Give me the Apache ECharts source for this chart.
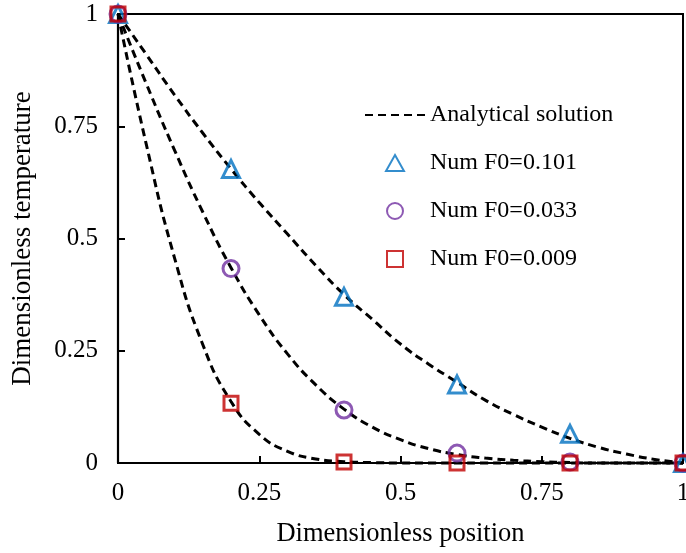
<!DOCTYPE html>
<html><head><meta charset="utf-8">
<script src="https://cdn.jsdelivr.net/npm/echarts@6/dist/echarts.min.js"></script>
<style>html,body{margin:0;padding:0;background:#fff}#c{width:686px;height:553px}</style>
</head><body><div id="c"></div>
<script>
const xTicks = [0, 0.25, 0.5, 0.75, 1];
const yTicks = [0, 0.25, 0.5, 0.75, 1];
const curveX = [0,0.05,0.1,0.15,0.2,0.25,0.3,0.35,0.4,0.45,0.5,0.55,0.6,0.65,0.7,0.75,0.8,0.85,0.9,0.95,1];
const curveF0101 = [1,0.91,0.82,0.735,0.655,0.58,0.51,0.44,0.375,0.32,0.265,0.22,0.18,0.14,0.108,0.08,0.055,0.035,0.02,0.008,0];
const curveF0033 = [1,0.845,0.697,0.559,0.435,0.33,0.243,0.174,0.12,0.08,0.052,0.032,0.019,0.011,0.006,0.003,0.001,0,0,0,0];
const curveF0009 = [1,0.71,0.457,0.264,0.137,0.064,0.026,0.009,0.003,0.001,0,0,0,0,0,0,0,0,0,0,0];
const numX = [0, 0.2, 0.4, 0.6, 0.8, 1];
const numF0101 = [1, 0.655, 0.37, 0.175, 0.065, 0];
const numF0033 = [1, 0.433, 0.118, 0.022, 0.002, 0];
const numF0009 = [1, 0.133, 0.002, 0, 0, 0];

const font = '"Liberation Serif","Times New Roman",serif';
const pair = (xs, ys) => xs.map((x, i) => [x, ys[i]]);
const lineSeries = (ys) => ({
  name: 'Analytical solution', type: 'line', data: pair(curveX, ys), smooth: true,
  symbol: 'none', clip: false, z: 2,
  lineStyle: { color: '#000', width: 3, type: [8, 5] }, itemStyle: { color: '#000' }
});
const sc = (name, ys, symbol, color, size) => ({
  name, type: 'scatter', data: pair(numX, ys), symbol, symbolSize: size, clip: false, z: 5,
  itemStyle: { color: 'rgba(0,0,0,0)', borderColor: color, borderWidth: 3 }
});
const tri = 'path://M50,8 L96,90 L4,90 Z';
const sq = 'path://M0,0 L10,0 L10,10 L0,10 Z';
const chart = echarts.init(document.getElementById('c'), null, { renderer: 'canvas' });
chart.setOption({
  animation: false,
  grid: { left: 118, right: 3, top: 14, bottom: 90, show: true, borderColor: '#000', borderWidth: 2, outerBoundsMode: 'none', containLabel: false },
  xAxis: {
    type: 'value', min: 0, max: 1, interval: 0.25,
    name: 'Dimensionless position', nameLocation: 'middle', nameGap: 58,
    nameTextStyle: { fontFamily: font, fontSize: 26.5, color: '#000' },
    axisLine: { lineStyle: { color: '#000', width: 2.2 } },
    axisTick: { inside: true, length: 7, lineStyle: { color: '#000', width: 2 } },
    axisLabel: { fontFamily: font, fontSize: 25, color: '#000', margin: 18, formatter: v => xTicks.includes(v) ? String(v) : '' },
    splitLine: { show: false }
  },
  yAxis: {
    type: 'value', min: 0, max: 1, interval: 0.25,
    name: 'Dimensionless temperature', nameLocation: 'middle', nameGap: 82,
    nameTextStyle: { fontFamily: font, fontSize: 27, color: '#000' },
    axisLine: { lineStyle: { color: '#000', width: 2.2 } },
    axisTick: { inside: true, length: 7, lineStyle: { color: '#000', width: 2 } },
    axisLabel: { fontFamily: font, fontSize: 25, color: '#000', margin: 20, formatter: v => yTicks.includes(v) ? String(v) : '' },
    splitLine: { show: false }
  },
  legend: {
    orient: 'vertical', left: 359, top: 98, itemGap: 24, itemWidth: 60, itemHeight: 16,
    textStyle: { fontFamily: font, fontSize: 24, color: '#000' },
    data: [
      { name: 'Analytical solution', itemStyle: { color: 'rgba(0,0,0,0)', borderWidth: 0, opacity: 0 } },
      { name: 'Num F0=0.101', icon: tri },
      { name: 'Num F0=0.033', icon: 'circle' },
      { name: 'Num F0=0.009', icon: sq }
    ]
  },
  series: [
    lineSeries(curveF0101), lineSeries(curveF0033), lineSeries(curveF0009),
    sc('Num F0=0.101', numF0101, tri, '#0070C0', 17),
    sc('Num F0=0.033', numF0033, 'circle', '#7030A0', 16),
    sc('Num F0=0.009', numF0009, sq, '#C00000', 14)
  ]
});
</script></body></html>
